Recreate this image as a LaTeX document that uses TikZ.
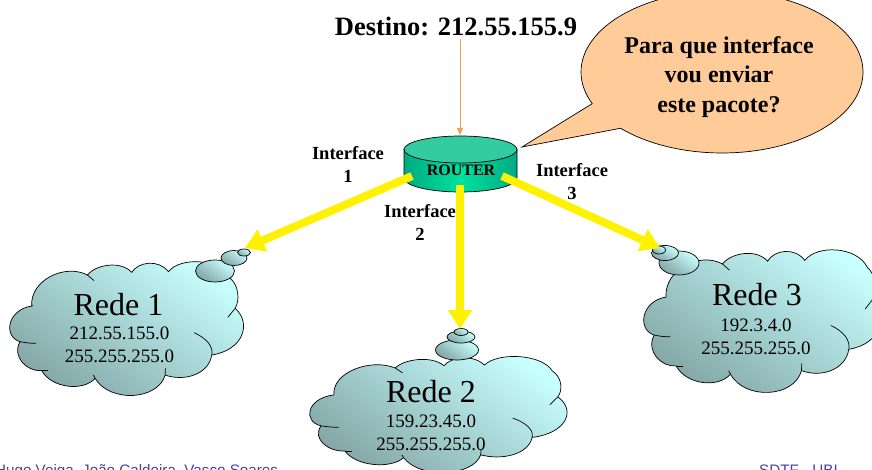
\documentclass[tikz,border=0pt]{standalone}
\usepackage{fontspec}
\setmainfont{Liberation Serif}
\newfontfamily\footfont{Liberation Sans}
\usetikzlibrary{arrows.meta}
\definecolor{cloudlight}{HTML}{C8FFFF}
\definecolor{clouddark}{HTML}{82A4A4}
\definecolor{footblue}{HTML}{4444A8}
\definecolor{bubblefill}{HTML}{FFCC99}
\definecolor{routertop}{HTML}{33CCA0}
\definecolor{routeredge}{HTML}{00AA82}
\definecolor{routermid}{HTML}{00E1A0}
\definecolor{feedline}{HTML}{F0A050}
\tikzset{
  cloudshade/.style={left color=cloudlight,right color=clouddark,shading angle=-35},
  outl/.style={draw=black,line width=0.7pt},
  bubble/.style={cloudshade,outl},
  thick yellow/.style={draw=yellow,line width=8pt,-{Triangle[length=19pt,width=23pt]}},
  iflabel/.style={font=\fontsize{18.5}{23}\selectfont\bfseries,align=center},
  netname/.style={font=\fontsize{32}{35}\selectfont},
  netaddr/.style={font=\fontsize{19}{23}\selectfont,align=center},
  footer/.style={font=\fontsize{15.2}{17}\selectfont\footfont,text=footblue,anchor=base west,inner sep=0pt},
}
\newcommand{\netcloud}[4]{%
  \begin{scope}[shift={(#1,#2)},xscale=#3/700,yscale=#4/408]
    \path[cloudshade,outl] (65,138)
      .. controls (60,60) and (165,10) .. (232,45)
      .. controls (255,15) and (330,0) .. (365,37)
      .. controls (385,5) and (445,-3) .. (475,35)
      .. controls (510,-10) and (630,-5) .. (660,55)
      .. controls (685,75) and (690,120) .. (675,145)
      .. controls (725,190) and (700,270) .. (605,285)
      .. controls (595,345) and (520,365) .. (465,345)
      .. controls (445,420) and (300,430) .. (255,355)
      .. controls (220,395) and (125,385) .. (95,332)
      .. controls (50,335) and (5,290) .. (30,245)
      .. controls (-20,230) and (-10,150) .. cycle;
    \draw[outl] (232,45) -- (252,62);
    \draw[outl] (675,145) -- (653,172);
    \draw[outl] (552,218) .. controls (590,235) and (610,260) .. (605,285);
    \draw[outl] (465,345) -- (466,325);
    \draw[outl] (95,332) -- (115,332);
    \draw[outl] (30,245) .. controls (45,248) and (60,250) .. (78,250);
    \draw[outl] (255,355) -- (250,345);
  \end{scope}}
\begin{document}
\begin{tikzpicture}[x=1pt,y=-1pt]
\useasboundingbox (0,0) rectangle (872,470);
\clip (0,0) rectangle (872,470);
\fill[white] (0,0) rectangle (872,470);

% speech bubble
\path[fill=bubblefill,outl]
  (522,147) -- plot[domain=157:496,samples=120] ({722+141*cos(\x)},{72+81*sin(\x)}) -- cycle;
\node[font=\fontsize{24}{29.5}\selectfont\bfseries,align=center] (question) at (719,77) {Para que interface\\vou enviar\\este pacote?};

% clouds
\netcloud{10}{260}{233.5}{136}
\netcloud{310}{355}{257}{118}
\netcloud{644}{248}{237}{145}

% thought bubbles
\path[bubble] (215,271) ellipse [x radius=19.5,y radius=11];
\path[bubble] (234,258) ellipse [x radius=13,y radius=7.5];
\path[bubble] (244,252.5) ellipse [x radius=6.5,y radius=3.5];
\path[bubble] (457,350) ellipse [x radius=21.5,y radius=10];
\path[bubble] (461,337) ellipse [x radius=14,y radius=6];
\path[bubble] (461,332) ellipse [x radius=7,y radius=3.5];
\path[bubble] (679,263) ellipse [x radius=20,y radius=12];
\path[bubble] (665,253) ellipse [x radius=13.5,y radius=7.5];
\path[bubble] (659,250) ellipse [x radius=6.5,y radius=4];

% router
\path[left color=routeredge,right color=routeredge,middle color=routermid,outl]
  (404,149) -- (404,178) .. controls (404,186) and (430,192) .. (460.5,192)
  .. controls (491,192) and (517,186) .. (517,178) -- (517,149) -- cycle;
\path[fill=routertop,outl] (460.5,149.5) ellipse [x radius=56.5,y radius=13.5];
\node[font=\fontsize{16}{18}\selectfont\bfseries] (router) at (461,170) {ROUTER};

% labels
\node[font=\fontsize{26.5}{30}\selectfont\bfseries] (dest) at (456,26) {Destino: 212.55.155.9};
\node[iflabel] (if1) at (348,164.5) {Interface\\1};
\node[iflabel] (if2) at (420,222) {Interface\\2};
\node[iflabel] (if3) at (572,182) {Interface\\3};

% network text
\node[netname] (n1) at (118.5,305) {Rede 1};
\node[netaddr] (a1) at (119.5,345) {212.55.155.0\\255.255.255.0};
\node[netname] (n2) at (431,392) {Rede 2};
\node[netaddr] (a2) at (431,433) {159.23.45.0\\255.255.255.0};
\node[netname] (n3) at (757,295) {Rede 3};
\node[netaddr] (a3) at (756,337) {192.3.4.0\\255.255.255.0};

% connectors
\coordinate (r1) at (412,176);
\coordinate (r2) at (460,185);
\coordinate (r3) at (502,176);
\coordinate (c1) at (245,248);
\coordinate (c2) at (460,329);
\coordinate (c3) at (660,248);
\coordinate (dtail) at (460,39);
\coordinate (rtop) at (460,135);
\draw[thick yellow] (r1) -- (c1);
\draw[thick yellow] (r2) -- (c2);
\draw[thick yellow] (r3) -- (c3);
\draw[draw=feedline,line width=1pt,-{Triangle[length=7pt,width=6pt]}] (dtail) -- (rtop);

% footer
\node[footer] (fl) at (-5,475) {Hugo Veiga, João Caldeira, Vasco Soares};
\node[footer] (fr) at (759,475) {SDTF - UBI};
\end{tikzpicture}
\end{document}
